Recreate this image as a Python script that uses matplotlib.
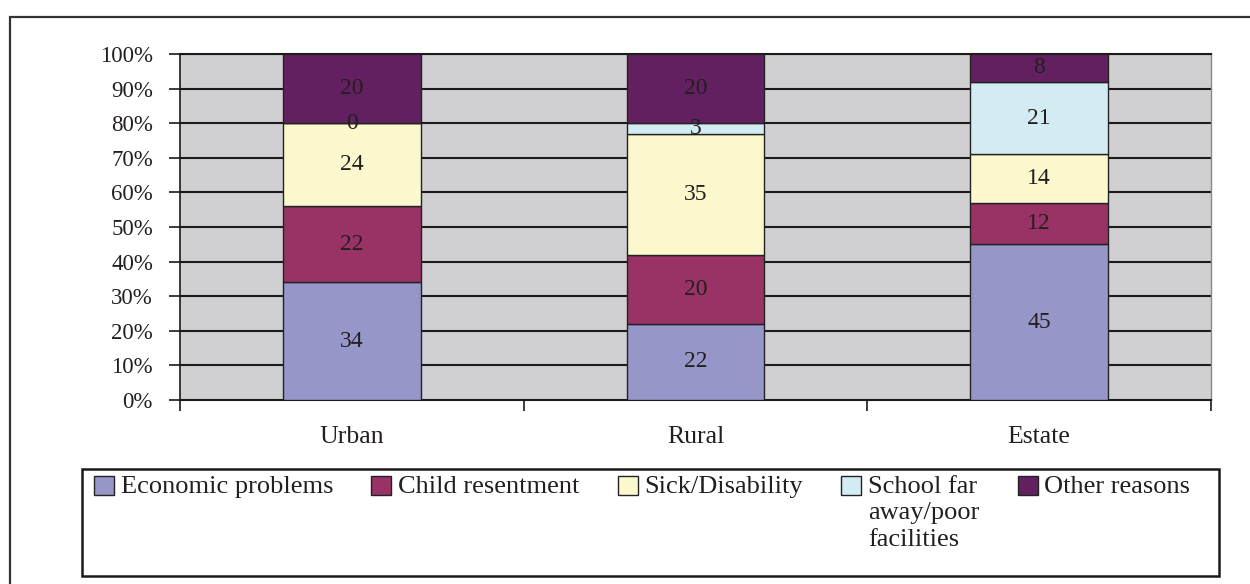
import numpy as np
import matplotlib.pyplot as plt
from matplotlib.patches import Rectangle
from matplotlib.ticker import FixedLocator, NullFormatter, FuncFormatter

plt.rcParams['font.family'] = ['Liberation Serif', 'DejaVu Serif']

# data
categories = ['Urban', 'Rural', 'Estate']
series_names = ['Economic problems', 'Child resentment', 'Sick/Disability',
                'School far\naway/poor\nfacilities', 'Other reasons']
economic = [34, 22, 45]
child = [22, 20, 12]
sick = [24, 35, 14]
school = [0, 3, 21]
other = [20, 20, 8]
series_values = [economic, child, sick, school, other]
colors = ['#9696c9', '#993366', '#fbf8cd', '#d3ecf3', '#632061']

W, H = 1250, 584
fig = plt.figure(figsize=(W / 100, H / 100), dpi=100)
ax = fig.add_axes([180 / W, 1 - 400 / H, 1031 / W, 346 / H])

# outer frame (only left and top edges fall inside the picture)
fig.patches.append(Rectangle((10 / W, -0.2), 1.5, (H - 17) / H + 0.2,
                             transform=fig.transFigure, fill=False,
                             edgecolor='#333333', linewidth=1.6))
# legend frame
fig.patches.append(Rectangle((82 / W, 1 - 576 / H), (1219 - 82) / W, 107 / H,
                             transform=fig.transFigure, fill=False,
                             edgecolor='#1a1a1a', linewidth=1.8))

ax.set_facecolor('#d0d0d2')
x = np.arange(len(categories))
totals = np.sum(series_values, axis=0)
bottom = np.zeros(len(categories))
for name, vals, col in zip(series_names, series_values, colors):
    pct = np.array(vals) / totals * 100
    bars = ax.bar(x, pct, 0.4, bottom=bottom, color=col, edgecolor='#222222',
                  linewidth=1.0, label=name, zorder=3)
    for b, v, p, btm in zip(bars, vals, pct, bottom):
        ax.text(b.get_x() + b.get_width() / 2, btm + p / 2, str(v),
                ha='center', va='center', fontsize=17, color='#231f20',
                zorder=4)
    bottom = bottom + pct

ax.set_xlim(-0.5, 2.5)
ax.set_ylim(0, 100)

# horizontal grid
for yv in range(10, 101, 10):
    ax.axhline(yv, color='#1a1a1a', linewidth=1.5, zorder=1)

ax.yaxis.set_major_locator(FixedLocator(range(0, 101, 10)))
ax.yaxis.set_major_formatter(FuncFormatter(lambda v, p: f'{v:.0f}%'))
ax.tick_params(axis='y', length=8, width=1.2, color='#1a1a1a', labelsize=16.5,
               pad=11.5, labelcolor='#231f20')

ax.xaxis.set_major_locator(FixedLocator([-0.5, 0.5, 1.5, 2.5]))
ax.xaxis.set_major_formatter(NullFormatter())
ax.xaxis.set_minor_locator(FixedLocator(x))
ax.set_xticklabels(categories, minor=True)
ax.tick_params(axis='x', which='major', length=8, width=1.2, color='#1a1a1a')
ax.tick_params(axis='x', which='minor', length=0, labelsize=18.5, pad=19,
               labelcolor='#231f20')

ax.spines['left'].set_color('#1a1a1a')
ax.spines['left'].set_linewidth(1.2)
ax.spines['bottom'].set_color('#1a1a1a')
ax.spines['bottom'].set_linewidth(1.5)
ax.spines['top'].set_color('#1a1a1a')
ax.spines['top'].set_linewidth(1.5)
ax.spines['right'].set_color('#8a8a8a')
ax.spines['right'].set_linewidth(1.0)

leg = fig.legend(loc='upper left', bbox_to_anchor=(94 / W, 1 - 476 / H),
                 ncol=5, fontsize=19, frameon=False,
                 handlelength=0.76, handleheight=0.75,
                 handletextpad=0.25, columnspacing=1.45, borderpad=0,
                 borderaxespad=0, labelspacing=0.1)
for t in leg.get_texts():
    t.set_color('#231f20')
    t.set_linespacing(1.25)
# align legend columns at the top so the 3-line label does not push the others down
leg._legend_handle_box.align = 'top'
for col in leg._legend_handle_box.get_children():
    for item in col.get_children():
        item.align = 'top'

fig.savefig('out.png', dpi=100)
